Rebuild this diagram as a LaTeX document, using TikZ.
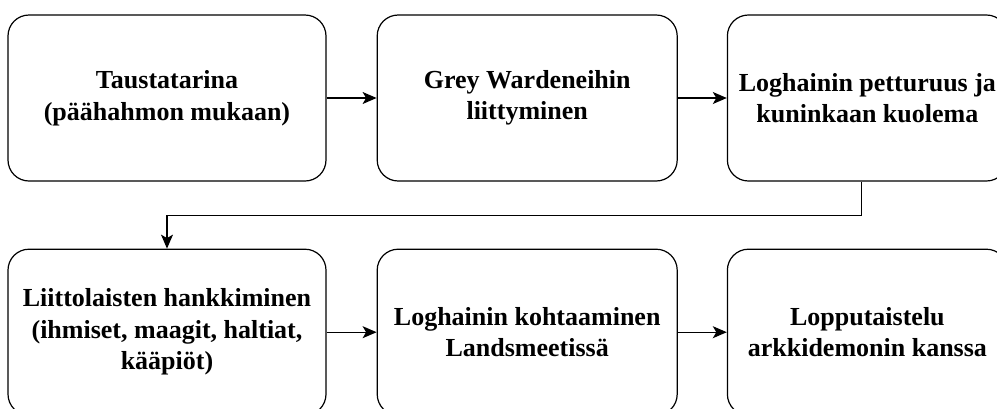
\documentclass[tikz,border=0pt]{standalone}
\usepackage{fontspec}
\setmainfont{Liberation Serif}
\usetikzlibrary{positioning,arrows.meta}

\begin{document}
\begin{tikzpicture}[x=1pt,y=1pt,node distance=50pt,
    step box/.style={draw,rounded corners=21pt,line width=1.2pt,
      minimum height=166pt,align=center,
      font=\fontsize{26}{31.5}\selectfont\bfseries},
    >={Stealth[length=14pt,width=12pt,inset=3.5pt]}]
\useasboundingbox (0,0) rectangle (997,-408);
        \node[step box,minimum width=318pt] (s_1) at (167,-98) {Taustatarina\\(päähahmon mukaan)};
        \node[step box,minimum width=300pt] (s_2) [right=of s_1] {Grey Wardeneihin\\liittyminen};
        \node[step box,minimum width=280pt] (s_3) [right=49pt of s_2] {Loghainin petturuus ja\\kuninkaan kuolema};
        \node[step box,minimum width=318pt] (s_4) [below=67pt of s_1] {Liittolaisten hankkiminen\\(ihmiset, maagit, haltiat,\\kääpiöt)};
        \node[step box,minimum width=300pt] (s_5) [right=of s_4] {Loghainin kohtaaminen\\Landsmeetissä};
        \node[step box,minimum width=280pt] (s_6) [right=49pt of s_5] {Lopputaistelu\\arkkidemonin kanssa};
        \path[->,line width=1.2pt]
        (s_1) edge (s_2)
        (s_2) edge (s_3)
        (s_4) edge (s_5)
        (s_5) edge (s_6);
        \draw[->,line width=1.2pt] ([xshift=-6pt]s_3.south) -- ++(0,-34) -| (s_4.north);
    \end{tikzpicture}
\end{document}
